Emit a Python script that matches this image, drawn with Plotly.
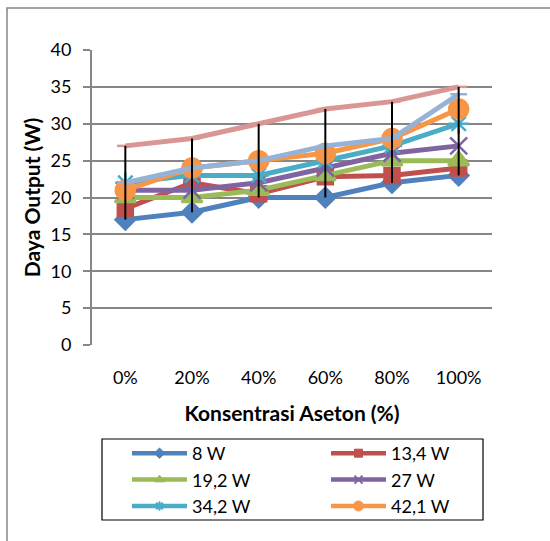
import plotly.graph_objects as go
import numpy as np

categories = ["0%", "20%", "40%", "60%", "80%", "100%"]

s_8w = [17, 18, 20, 20, 22, 23]
s_13_4w = [18.5, 22, 20.5, 22.8, 23, 24]
s_19_2w = [20, 20, 21, 23, 25, 25]
s_27w = [21, 21, 22, 24, 26, 27]
s_34_2w = [22, 23, 23, 25, 27, 30]
s_42_1w = [21, 24, 25, 26, 28, 32]
s_extra1 = [22, 24, 25, 27, 28, 34]
s_extra2 = [27, 28, 30, 32, 33, 35]

series_names = ["8 W", "13,4 W", "19,2 W", "27 W", "34,2 W", "42,1 W", "", ""]
series_values = [s_8w, s_13_4w, s_19_2w, s_27w, s_34_2w, s_42_1w, s_extra1, s_extra2]
colors = ["#4F81BD", "#C0504D", "#9BBB59", "#8064A2", "#4BACC6", "#F79646", "#95B3D7", "#D99694"]
symbols = ["diamond", "square", "triangle-up", "x-thin-open", "asterisk-open", "circle", "line-ew-open", "line-ew-open"]
sizes = [15, 15, 18, 17, 17, 19, 12, 12]
legend_sizes = [8, 8, 9, 8, 8, 10, 0, 0]
in_legend = [True] * 6 + [False] * 2

FONT = "Lato"
fig = go.Figure()

for name, vals, col, sym, sz in zip(series_names, series_values, colors, symbols, sizes):
    fig.add_trace(go.Scatter(
        x=categories, y=vals, name=name, mode="lines+markers",
        line=dict(color=col, width=5),
        marker=dict(symbol=sym, size=sz, color=col, line=dict(color=col, width=2.5)),
        showlegend=False,
    ))

# high-low lines
arr = np.array(series_values, dtype=float)
hi = arr.max(axis=0)
lo = arr.min(axis=0)
hx, hy = [], []
for c, h, l in zip(categories, hi, lo):
    hx += [c, c, None]
    hy += [h, l, None]
fig.add_trace(go.Scatter(x=hx, y=hy, mode="lines", line=dict(color="black", width=2),
                         showlegend=False, hoverinfo="skip"))

# legend entries (smaller markers, as in the reference legend)
for name, col, sym, lsz, inl in zip(series_names, colors, symbols, legend_sizes, in_legend):
    if not inl:
        continue
    fig.add_trace(go.Scatter(
        x=[None], y=[None], name=name, mode="lines+markers",
        line=dict(color=col, width=4.5),
        marker=dict(symbol=sym, size=lsz, color=col,
                    line=dict(color=col, width=2 if sym.endswith("open") else 1)),
        showlegend=True,
    ))

fig.update_layout(
    width=550, height=541,
    margin=dict(l=92, r=58, t=50, b=196, pad=0),
    paper_bgcolor="white", plot_bgcolor="white",
    font=dict(family=FONT, size=18, color="black"),
    showlegend=True,
    legend=dict(
        orientation="h", x=(127 - 92) / 400, y=(345 - 435) / 295, xanchor="left", yanchor="top",
        borderwidth=0, bgcolor="rgba(0,0,0,0)",
        entrywidth=129, itemwidth=55, font=dict(family=FONT, size=18),
        traceorder="normal",
    ),
    xaxis=dict(
        type="category", categoryorder="array", categoryarray=categories,
        range=[-0.5, 5.5], showgrid=False, zeroline=False,
        showline=False, ticks="", ticklabelstandoff=20,
        tickfont=dict(family=FONT, size=18),
        title=dict(text="<b>Konsentrasi Aseton (%)</b>", font=dict(family=FONT, size=21), standoff=19),
    ),
    yaxis=dict(
        range=[0, 40], dtick=5, showgrid=True, gridcolor="#868686", gridwidth=2,
        zeroline=False, showline=True, linecolor="#868686", linewidth=2,
        ticks="outside", ticklen=7, tickwidth=2, tickcolor="#868686",
        ticklabelstandoff=8, tickfont=dict(family=FONT, size=18),
        title=dict(text="<b>Daya Output (W)</b>", font=dict(family=FONT, size=21), standoff=4),
    ),
    shapes=[
        dict(type="rect", xref="paper", yref="paper",
             x0=(7 - 92) / 400, x1=(560 - 92) / 400,
             y0=(345 - 560) / 295, y1=(345 - 8) / 295,
             line=dict(color="#868686", width=1.5), fillcolor="rgba(0,0,0,0)", layer="below"),
        dict(type="rect", xref="paper", yref="paper",
             x0=(102 - 92) / 400, x1=(483 - 92) / 400,
             y0=(345 - 520) / 295, y1=(345 - 439) / 295,
             line=dict(color="black", width=1.2), fillcolor="white", layer="below"),
    ],
)

fig.write_html("out.html")
